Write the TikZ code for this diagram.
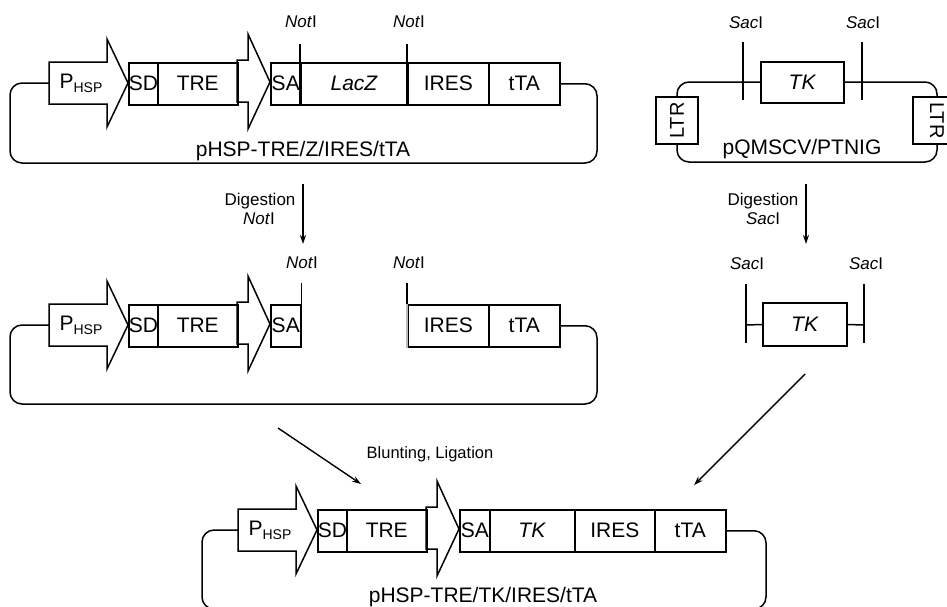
\documentclass[tikz,border=0pt]{standalone}
\usepackage{fontspec}
\setmainfont{Liberation Sans}
\usetikzlibrary{arrows.meta}
\tikzset{
  ln/.style={line width=1.5pt},
  gbox/.style={draw, line width=1.5pt, inner sep=0pt, minimum height=42pt, anchor=north west, font=\fontsize{21}{23}\selectfont},
  big/.style={font=\fontsize{21}{23}\selectfont, inner sep=0pt},
  small/.style={font=\fontsize{17}{19}\selectfont, inner sep=0pt},
  arr/.style={line width=1.4pt, -{Stealth[length=9pt,width=6pt]}},
}
\newcommand\headpart{%
  \draw[ln] (49,62) -- (107,62) -- (107,39) -- (128,83) -- (107,127) -- (107,104) -- (49,104) -- cycle;
  \node[big] (P) at (81,83) {P\raisebox{-4pt}{\fontsize{14}{14}\selectfont HSP}};
  \coordinate (Pin) at (49,83);
  \node[gbox, minimum width=29pt] (SD) at (128,62) {SD};
  \node[gbox, minimum width=80pt] (TRE) at (157,62) {TRE};
  \draw[ln] (237,60) -- (248,60) -- (248,34) -- (270,82) -- (248,129) -- (248,102) -- (237,102) -- cycle;
  \node[gbox, minimum width=30pt] (SA) at (270,62) {SA};
}
\begin{document}
\begin{tikzpicture}[x=1pt,y=-1pt]
\useasboundingbox (0,0) rectangle (947,606);
\clip (0,0) rectangle (947,606);

% ---------- Row 1: pHSP-TRE/Z/IRES/tTA
\begin{scope}[name prefix=a-]
  \headpart
  \node[gbox, minimum width=107pt] (LacZ) at (300,62) {\textit{LacZ}};
  \node[gbox, minimum width=81pt] (IRES) at (407,62) {IRES};
  \node[gbox, minimum width=71pt] (tTA) at (488,62) {tTA};
  \draw[ln] (LacZ.south west) -- ++(0,-62);
  \draw[ln] (IRES.south west) -- ++(0,-62);
  \draw[ln, rounded corners=12pt] (tTA.east) -| (597,163) -| (10,83) -- (Pin);
  \node[big, anchor=base] (lab) at (303,156) {pHSP-TRE/Z/IRES/tTA};
  \node[small, anchor=base] (n1) at (301,27) {\textit{Not}I};
  \node[small, anchor=base] (n2) at (409,27) {\textit{Not}I};
\end{scope}

% ---------- Row 2: digested
\begin{scope}[shift={(0,242)}, name prefix=b-]
  \headpart
  \node[gbox, minimum width=81pt] (IRES) at (407,62) {IRES};
  \draw[gray!55, line width=1.5pt] (IRES.north west) -- (IRES.south west);
  \node[gbox, minimum width=71pt] (tTA) at (488,62) {tTA};
  \draw[ln] (SA.north east) -- ++(0,-21);
  \draw[ln] (IRES.north west) -- ++(0,-21);
  \draw[ln, rounded corners=12pt] (tTA.east) -| (597,162) -| (10,83) -- (Pin);
  \node[small, anchor=base] (n1) at (302,26) {\textit{Not}I};
  \node[small, anchor=base] (n2) at (409,26) {\textit{Not}I};
\end{scope}

% ---------- Row 3: pHSP-TRE/TK/IRES/tTA
\begin{scope}[shift={(189,447)}, name prefix=c-]
  \headpart
  \node[gbox, minimum width=85pt] (TK) at (300,62) {\textit{TK}};
  \node[gbox, minimum width=80pt] (IRES) at (385,62) {IRES};
  \node[gbox, minimum width=71pt] (tTA) at (465,62) {tTA};
  \draw[ln, rounded corners=12pt] (tTA.east) -| (577,162) -| (13,83) -- (Pin);
  \node[big, anchor=base] (lab) at (294,155) {pHSP-TRE/TK/IRES/tTA};
\end{scope}

% ---------- pQMSCV/PTNIG
\node[draw, ln, minimum width=42pt, minimum height=47pt, inner sep=0pt, font=\fontsize{20}{21}\selectfont] (ltrL) at (677,120.5) {\rotatebox{90}{LTR}};
\node[draw, ln, minimum width=48pt, minimum height=47pt, inner sep=0pt, font=\fontsize{20}{21}\selectfont] (ltrR) at (937,120.5) {\rotatebox{-90}{LTR}};
\draw[ln, rounded corners=12pt] (ltrL.north) -- (677,82) -- (937,82) -- (ltrR.north);
\draw[ln, rounded corners=12pt] (ltrL.south) -- (677,162) -- (937,162) -- (ltrR.south);
\draw[ln] (743,42) -- (743,100);
\draw[ln] (862,42) -- (862,100);
\node[gbox, fill=white, anchor=center, minimum width=83pt, minimum height=41pt] (TKp) at (802.5,82.5) {\textit{TK}};
\node[small, anchor=base] (s1) at (746,28) {\textit{Sac}I};
\node[small, anchor=base] (s2) at (863,28) {\textit{Sac}I};
\node[big, anchor=base] (plab) at (802,154) {pQMSCV/PTNIG};

% ---------- SacI fragment
\node[gbox, anchor=center, minimum width=84pt, minimum height=43pt] (TKf) at (805,324.5) {\textit{TK}};
\coordinate (fl) at (746,325);
\coordinate (fr) at (864,325);
\draw[ln] (746,284) -- (746,343);
\draw[ln] (864,284) -- (864,343);
\draw[ln] (fl) -- (TKf.west);
\draw[ln] (TKf.east) -- (fr);
\node[small, anchor=base] (s3) at (747,269) {\textit{Sac}I};
\node[small, anchor=base] (s4) at (866,269) {\textit{Sac}I};

% ---------- Digestion arrows
\coordinate (d1s) at (303,184);
\coordinate (d1e) at (303,244);
\draw[arr] (d1s) -- (d1e);
\node[small, anchor=base] (dg1) at (260,205) {Digestion};
\node[small, anchor=base] (dg1b) at (259,224) {\textit{Not}I};
\coordinate (d2s) at (806,184);
\coordinate (d2e) at (806,244);
\draw[arr] (d2s) -- (d2e);
\node[small, anchor=base] (dg2) at (763,205) {Digestion};
\node[small, anchor=base] (dg2b) at (763,224) {\textit{Sac}I};

% ---------- Ligation arrows
\coordinate (l1s) at (278,428);
\coordinate (l1e) at (361,484);
\draw[arr] (l1s) -- (l1e);
\coordinate (l2s) at (805,374);
\coordinate (l2e) at (694,485);
\draw[arr] (l2s) -- (l2e);
\node[small, anchor=base, font=\fontsize{16.5}{18}\selectfont] (blig) at (430,458) {Blunting, Ligation};
\end{tikzpicture}
\end{document}
